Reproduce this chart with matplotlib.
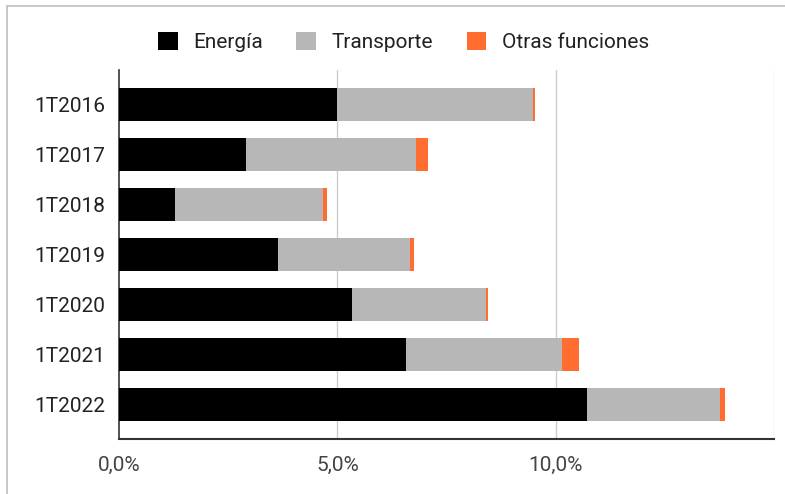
import numpy as np
import matplotlib.pyplot as plt
from matplotlib.patches import Rectangle
from matplotlib.ticker import FuncFormatter

plt.rcParams['font.family'] = ['Roboto', 'DejaVu Sans']

periodos = ["1T2016", "1T2017", "1T2018", "1T2019", "1T2020", "1T2021", "1T2022"]
energia = [5.00, 2.90, 1.27, 3.64, 5.33, 6.56, 10.70]
transporte = [4.48, 3.89, 3.40, 3.02, 3.07, 3.58, 3.06]
otras = [0.05, 0.28, 0.09, 0.09, 0.04, 0.38, 0.11]

series = [("Energía", energia, "#000000"),
          ("Transporte", transporte, "#b7b7b7"),
          ("Otras funciones", otras, "#ff6d31")]

fig = plt.figure(figsize=(7.85, 4.94), dpi=100)
ax = fig.add_axes([0.1516, 0.111, 0.835, 0.747])

y = np.arange(len(periodos))
left = np.zeros(len(periodos))
for name, vals, col in series:
    ax.barh(y, vals, left=left, height=0.66, color=col, label=name, zorder=3)
    left += np.array(vals)

# bars don't fill the plot area edge to edge (google style)
ax.set_ylim(6.7, -0.68)
ax.set_yticks(y)
ax.set_yticklabels(periodos, fontsize=15, color="#222222")
ax.set_xlim(0, 15)
ax.set_xticks([0, 5, 10])
ax.xaxis.set_major_formatter(FuncFormatter(lambda v, p: f"{v:.1f}%".replace(".", ",")))
ax.tick_params(axis="x", labelsize=15, labelcolor="#444444", length=0, pad=12)
ax.tick_params(axis="y", length=0, pad=10)

for gx in [5, 10, 15]:
    ax.axvline(gx, color="#cccccc", lw=1, zorder=1)

for s in ["top", "right"]:
    ax.spines[s].set_visible(False)
ax.spines["left"].set_color("#333333")
ax.spines["bottom"].set_color("#333333")
ax.spines["left"].set_linewidth(1.2)
ax.spines["bottom"].set_linewidth(1.5)

fig.legend(loc="center", bbox_to_anchor=(0.514, 1 - 42 / 494), ncol=3, frameon=False,
           fontsize=15, handlelength=0.95, handleheight=0.95, handletextpad=0.75,
           columnspacing=1.6, labelcolor="#222222")

fig.patches.append(Rectangle((7 / 785, -0.05), 1.2, 1.0 - 6 / 494 + 0.05,
                             transform=fig.transFigure, fill=False,
                             edgecolor="#bdbdbd", lw=1.2))

fig.savefig("out.png", dpi=100)
